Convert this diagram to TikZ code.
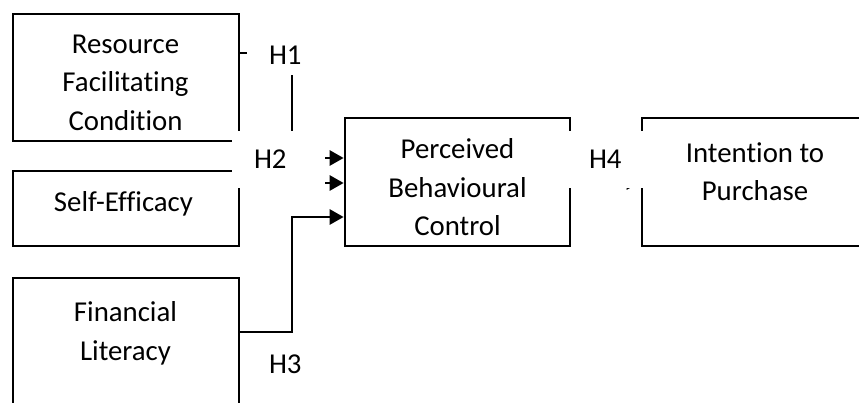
\documentclass[tikz,border=0pt]{standalone}
\usepackage{fontspec}
\setmainfont{Carlito}[Ligatures=NoCommon]
\usetikzlibrary{arrows.meta,calc}

\tikzset{
  box/.style={draw, line width=2.7pt, inner sep=0pt},
  txt/.style={align=center, inner sep=0pt, font=\fontsize{28.8}{38.5}\selectfont},
  hyp/.style={fill=white, inner xsep=22pt, inner ysep=0pt, text width=49pt,
    align=left, font=\fontsize{28.8}{38.5}\selectfont},
  link/.style={line width=2.7pt, -{Triangle[length=14pt,width=15pt]}},
}

\begin{document}
\begin{tikzpicture}[x=1pt,y=-1pt]
  \useasboundingbox (0,0) rectangle (859,402);
  \clip (0,0) rectangle (859,402);

  % boxes
  \node[box, minimum width=226pt, minimum height=127pt] (rfc) at (126,77.5) {};
  \node[box, minimum width=226pt, minimum height=75pt] (se) at (126,208.5) {};
  \node[box, minimum width=226pt, minimum height=127pt] (fl) at (126,341.5) {};
  \node[box, minimum width=225pt, minimum height=128pt] (pbc) at (457.5,182) {};
  \node[box, minimum width=225pt, minimum height=128pt] (ip) at (754.5,182) {};

  % box texts
  \node[txt] (rfc-t) at (125.5,82.5) {Resource\\Facilitating\\Condition};
  \node[txt] (se-t) at (123.5,204) {Self-Efficacy};
  \node[txt] (fl-t) at (125.5,333.5) {Financial\\Literacy};
  \node[txt] (pbc-t) at (457.5,187.5) {Perceived\\Behavioural\\Control};
  \node[txt] (ip-t) at (755,171.5) {Intention to\\Purchase};

  % connectors
  \coordinate (mid) at ($(rfc.east)!.5!(pbc.west)$);
  \coordinate (in1) at ([yshift=24pt]pbc.west);
  \coordinate (in2) at ([yshift=-1pt]pbc.west);
  \coordinate (in3) at ([yshift=-35pt]pbc.west);
  \draw[link] ([yshift=24.5pt]rfc.east) -| (mid |- in1) -- (in1);
  \draw[link] (se.east |- in2) -- (in2);
  \draw[link] ([yshift=9.5pt]fl.east) -| (mid |- in3) -- (in3);
  \draw[link] (pbc) -- (ip);

  % hypothesis labels
  \node[hyp, minimum height=40pt] (h1) at (293.5,55) {H1};
  \node[hyp, minimum height=57pt] (h2) at (278.5,159.5) {H2};
  \node[hyp, minimum height=57pt] (h3) at (293.5,364) {H3};
  \node[hyp, minimum height=57pt] (h4) at (613.5,159.5) {H4};
\end{tikzpicture}
\end{document}
